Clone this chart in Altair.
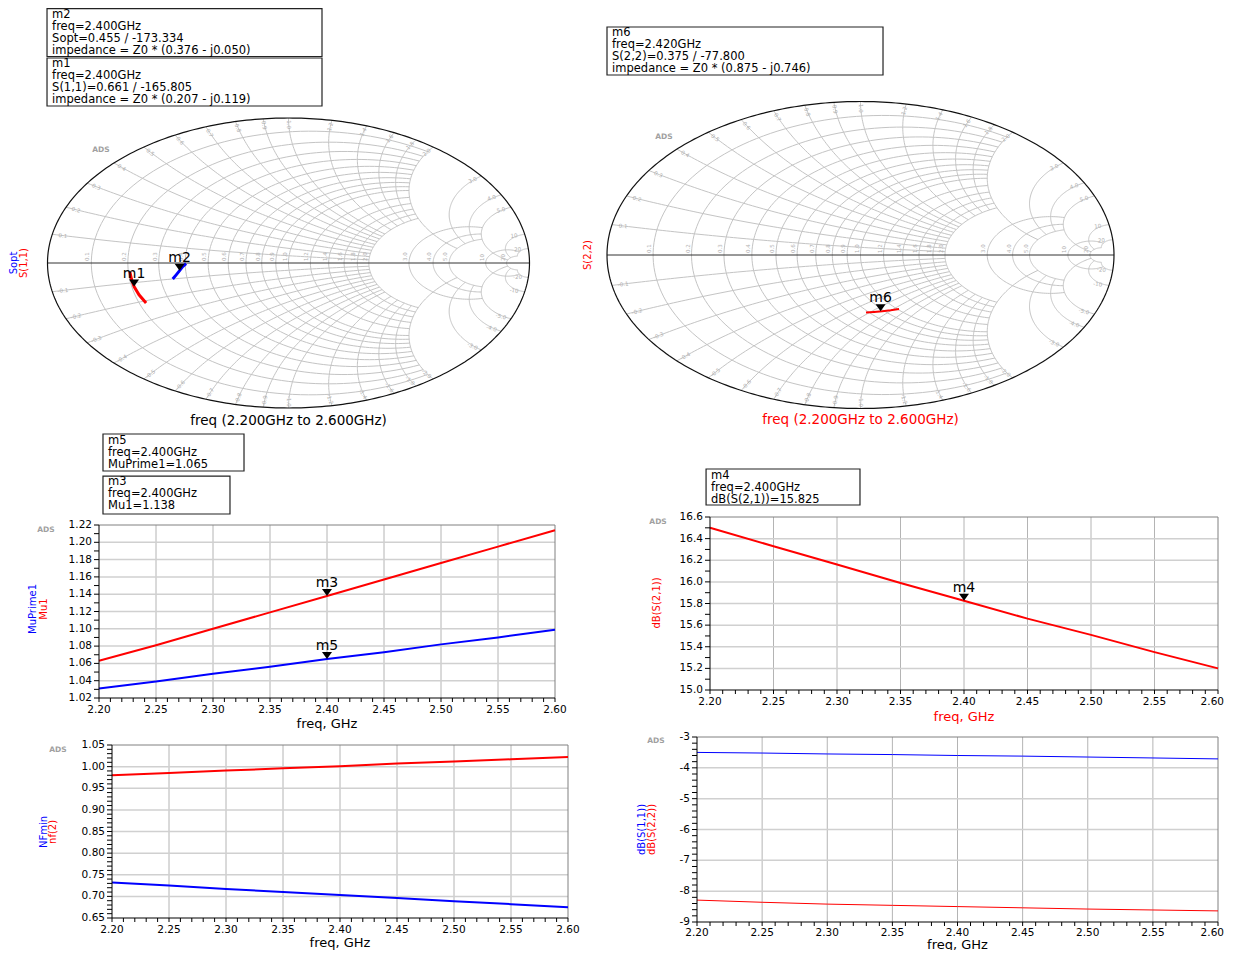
import numpy as np
import pandas as pd
import altair as alt

W, H = 1217, 942
FONT = "DejaVu Sans"
RED, BLUE, BLACK = "#ff0000", "#0000ff", "#000000"

# ---------------- series values ----------------
freq = [2.20, 2.25, 2.30, 2.35, 2.40, 2.45, 2.50, 2.55, 2.60]
mu1 = [1.063, 1.081, 1.100, 1.119, 1.138, 1.157, 1.176, 1.195, 1.214]
mu_prime1 = [1.031, 1.039, 1.048, 1.056, 1.065, 1.073, 1.082, 1.090, 1.099]
db_s21 = [16.50, 16.33, 16.16, 15.99, 15.825, 15.66, 15.51, 15.35, 15.20]
nf2 = [0.980, 0.985, 0.991, 0.996, 1.001, 1.007, 1.012, 1.017, 1.022]
nf_min = [0.732, 0.725, 0.717, 0.710, 0.703, 0.696, 0.689, 0.682, 0.675]
db_s11 = [-3.50, -3.52, -3.55, -3.57, -3.60, -3.62, -3.65, -3.68, -3.71]
db_s22 = [-8.29, -8.36, -8.42, -8.46, -8.50, -8.54, -8.58, -8.61, -8.64]

smith_freq = [2.2, 2.3, 2.4, 2.5, 2.6]
s11_mag = [0.652, 0.658, 0.661, 0.661, 0.661]
s11_ang = [-155.0, -160.5, -165.8, -170.4, -174.6]
sopt_mag = [0.493, 0.472, 0.455, 0.440, 0.425]
sopt_ang = [-167.0, -170.2, -173.3, -176.7, -179.5]
s22_mag = [0.383, 0.379, 0.376, 0.375, 0.376]
s22_ang = [-66.6, -71.7, -76.8, -81.8, -86.7]

# markers
m1 = (0.661, -165.805)
m2 = (0.455, -173.334)
m6 = (0.375, -77.800)
m3 = (2.40, 1.138)
m5 = (2.40, 1.065)
m4 = (2.40, 15.825)

box_m2 = "m2\nfreq=2.400GHz\nSopt=0.455 / -173.334\nimpedance = Z0 * (0.376 - j0.050)"
box_m1 = "m1\nfreq=2.400GHz\nS(1,1)=0.661 / -165.805\nimpedance = Z0 * (0.207 - j0.119)"
box_m6 = "m6\nfreq=2.420GHz\nS(2,2)=0.375 / -77.800\nimpedance = Z0 * (0.875 - j0.746)"
box_m5 = "m5\nfreq=2.400GHz\nMuPrime1=1.065"
box_m3 = "m3\nfreq=2.400GHz\nMu1=1.138"
box_m4 = "m4\nfreq=2.400GHz\ndB(S(2,1))=15.825"

# ---------------- axes / tick labels ----------------
freq_major = [2.20, 2.25, 2.30, 2.35, 2.40, 2.45, 2.50, 2.55, 2.60]
freq_labels = ["2.20", "2.25", "2.30", "2.35", "2.40", "2.45", "2.50", "2.55", "2.60"]
freq_minor = 0.01

mu_major = [1.02, 1.04, 1.06, 1.08, 1.10, 1.12, 1.14, 1.16, 1.18, 1.20, 1.22]
mu_labels = ["1.02", "1.04", "1.06", "1.08", "1.10", "1.12", "1.14", "1.16", "1.18", "1.20", "1.22"]
mu_minor = 0.01
s21_major = [15.0, 15.2, 15.4, 15.6, 15.8, 16.0, 16.2, 16.4, 16.6]
s21_labels = ["15.0", "15.2", "15.4", "15.6", "15.8", "16.0", "16.2", "16.4", "16.6"]
s21_minor = 0.1
nf_major = [0.65, 0.70, 0.75, 0.80, 0.85, 0.90, 0.95, 1.00, 1.05]
nf_labels = ["0.65", "0.70", "0.75", "0.80", "0.85", "0.90", "0.95", "1.00", "1.05"]
nf_minor = 0.01
sdb_major = [-9, -8, -7, -6, -5, -4, -3]
sdb_labels = ["-9", "-8", "-7", "-6", "-5", "-4", "-3"]
sdb_minor = 0.2

smith_grid_vals = [0.1, 0.2, 0.3, 0.4, 0.5, 0.6, 0.7, 0.8, 0.9, 1.0,
                   1.2, 1.4, 1.6, 1.8, 2.0, 3.0, 4.0, 5.0, 10.0, 20.0]
smith_grid_text = ["0.1", "0.2", "0.3", "0.4", "0.5", "0.6", "0.7", "0.8", "0.9", "1.0",
                   "1.2", "1.4", "1.6", "1.8", "2.0", "3.0", "4.0", "5.0", "10", "20"]
smith_r_limit = [2] * 10 + [2] * 5 + [5] * 3 + [20] * 2
smith_x_limit = [2] * 10 + [2, 2, 2, 2, 5] + [5, 5, 20] + [20, 20]


def ticks(lo, hi, step):
    n = int(round((hi - lo) / step))
    return [round(lo + i * step, 4) for i in range(n + 1)]


TRI = "M -1 -1.4 L 1 -1.4 L 0 0 Z"


def marker_layers(df, sx, sy):
    pts = alt.Chart(df).mark_point(shape=TRI, filled=True, size=100, color=BLACK, opacity=1).encode(
        x=alt.X("x:Q", scale=sx, axis=None), y=alt.Y("y:Q", scale=sy, axis=None))
    txt = alt.Chart(df).mark_text(font=FONT, fontSize=14, color=BLACK, dy=-9, baseline="alphabetic",
                                  align="center").encode(
        x=alt.X("x:Q", scale=sx, axis=None), y=alt.Y("y:Q", scale=sy, axis=None), text="name:N")
    return [pts, txt]


def box_layers(df, sx, sy):
    rect = alt.Chart(df).mark_rect(fill="white", stroke="#222222", strokeWidth=1.2).encode(
        x=alt.X("x0:Q", scale=sx, axis=None), x2="x1:Q",
        y=alt.Y("y0:Q", scale=sy, axis=None), y2="y1:Q")
    txt = alt.Chart(df).mark_text(font=FONT, fontSize=11.5, lineBreak="\n", lineHeight=12, align="left",
                                  baseline="top", color=BLACK).encode(
        x=alt.X("tx:Q", scale=sx, axis=None), y=alt.Y("ty:Q", scale=sy, axis=None), text="text:N")
    return [rect, txt]


def vtext_layers(df, sx, sy, size=10):
    return [alt.Chart(df).mark_text(angle=270, font=FONT, fontSize=size, align="center",
                                    baseline="middle").encode(
        x=alt.X("x:Q", scale=sx, axis=None), y=alt.Y("y:Q", scale=sy, axis=None), text="t:N",
        color=alt.Color("c:N", scale=None))]


def ads_layer(x, y, sx, sy):
    df = pd.DataFrame({"x": [x], "y": [y], "t": ["ADS"]})
    return alt.Chart(df).mark_text(font=FONT, fontSize=7.5, fontWeight="bold", color="#a0a0a0",
                                   align="center", baseline="middle").encode(
        x=alt.X("x:Q", scale=sx, axis=None), y=alt.Y("y:Q", scale=sy, axis=None), text="t:N")


# ---------------- rectangular panels ----------------
def rect_panel(xr, yr, ymajor, ylabels, yminor, series, xtitle_color, label_dy, title_dy, extra):
    lo, hi = ymajor[0], ymajor[-1]
    f0, f1 = freq_major[0], freq_major[-1]
    x0, x1 = xr
    yb, yt = yr
    sx = alt.Scale(domain=[f0, f1], range=[x0, x1], nice=False, zero=False)
    sy = alt.Scale(domain=[lo, hi], range=[yb, yt], nice=False, zero=False)
    XX = lambda f: alt.X(f, scale=sx, axis=None)
    YY = lambda f: alt.Y(f, scale=sy, axis=None)

    vg = pd.DataFrame({"f": freq_major[1:-1], "y0": lo, "y1": hi})
    hg = pd.DataFrame({"v": ymajor[1:-1], "x0": f0, "x1": f1})
    fr = pd.DataFrame({"x0": [f0, f1], "x1": [f1, f1], "y0": [hi, lo], "y1": [hi, hi]})
    dom = pd.DataFrame({"x0": [f0, f0], "x1": [f1, f0], "y0": [lo, lo], "y1": [lo, hi]})
    xt = pd.DataFrame({"f": ticks(f0, f1, freq_minor), "y": lo})
    yt_ = pd.DataFrame({"v": ticks(lo, hi, yminor), "x": f0})
    xl = pd.DataFrame({"f": freq_major, "t": freq_labels, "y": lo})
    yl = pd.DataFrame({"v": ymajor, "t": ylabels, "x": f0})
    xtitle = pd.DataFrame({"x": [(f0 + f1) / 2], "y": [lo], "t": ["freq, GHz"]})
    at_edge = x1 + 12 > W
    xl_main = xl.iloc[:-1] if at_edge else xl

    layers = [
        alt.Chart(vg).mark_rule(color="#b4b4b4", strokeWidth=1).encode(
            x=XX("f:Q"), y=YY("y0:Q"), y2="y1:Q"),
        alt.Chart(hg).mark_rule(color="#d0d0d0", strokeWidth=1.5).encode(
            y=YY("v:Q"), x=XX("x0:Q"), x2="x1:Q"),
        alt.Chart(fr).mark_rule(color="#808080", strokeWidth=1).encode(
            x=XX("x0:Q"), x2="x1:Q", y=YY("y0:Q"), y2="y1:Q"),
    ]
    for vals, color, width in series:
        df = pd.DataFrame({"f": freq, "v": vals})
        layers.append(alt.Chart(df).mark_line(color=color, strokeWidth=width).encode(
            x=XX("f:Q"), y=YY("v:Q")))
    layers += [
        alt.Chart(dom).mark_rule(color=BLACK, strokeWidth=1).encode(
            x=XX("x0:Q"), x2="x1:Q", y=YY("y0:Q"), y2="y1:Q"),
        alt.Chart(xt).mark_rule(color=BLACK, strokeWidth=1, y2Offset=4).encode(
            x=XX("f:Q"), y=YY("y:Q"), y2="y:Q"),
        alt.Chart(yt_).mark_rule(color=BLACK, strokeWidth=1, x2Offset=-5).encode(
            y=YY("v:Q"), x=XX("x:Q"), x2="x:Q"),
        alt.Chart(xl_main).mark_text(font=FONT, fontSize=10.5, color=BLACK, dy=label_dy, align="center",
                                     baseline="middle").encode(x=XX("f:Q"), y=YY("y:Q"), text="t:N"),
        alt.Chart(yl).mark_text(font=FONT, fontSize=10.5, color=BLACK, dx=-7, align="right",
                                baseline="middle").encode(x=XX("x:Q"), y=YY("v:Q"), text="t:N"),
        alt.Chart(xtitle).mark_text(font=FONT, fontSize=13, color=xtitle_color, dy=title_dy, align="center",
                                    baseline="middle").encode(x=XX("x:Q"), y=YY("y:Q"), text="t:N"),
    ]
    if at_edge:
        layers.append(alt.Chart(xl.iloc[-1:]).mark_text(
            font=FONT, fontSize=10.5, color=BLACK, dy=label_dy, dx=W - x1 - 1, align="right",
            baseline="middle").encode(x=XX("f:Q"), y=YY("y:Q"), text="t:N"))
    layers += extra(sx, sy)
    return alt.layer(*layers)


def ml_extra(sx, sy):
    mk = pd.DataFrame({"x": [m3[0], m5[0]], "y": [m3[1], m5[1]], "name": ["m3", "m5"]})
    bx = pd.DataFrame({"x0": [2.2035, 2.2035], "x1": [2.3272, 2.3149], "y0": [1.3252, 1.2766],
                       "y1": [1.2824, 1.2327], "tx": [2.2079, 2.2079], "ty": [1.3246, 1.2761],
                       "text": [box_m5, box_m3]})
    vt = pd.DataFrame({"x": [2.1421, 2.1518], "y": [1.1229, 1.1229], "t": ["MuPrime1", "Mu1"], "c": [BLUE, RED]})
    return marker_layers(mk, sx, sy) + box_layers(bx, sx, sy) + vtext_layers(vt, sx, sy) + [ads_layer(2.1535, 1.2142, sx, sy)]


def mr_extra(sx, sy):
    mk = pd.DataFrame({"x": [m4[0]], "y": [m4[1]], "name": ["m4"]})
    bx = pd.DataFrame({"x0": [2.1969], "x1": [2.3181], "y0": [17.044], "y1": [16.711],
                       "tx": [2.2008], "ty": [17.0393], "text": [box_m4]})
    vt = pd.DataFrame({"x": [2.1583], "y": [15.805], "t": ["dB(S(2,1))"], "c": [RED]})
    return marker_layers(mk, sx, sy) + box_layers(bx, sx, sy) + vtext_layers(vt, sx, sy) + [ads_layer(2.1591, 16.554, sx, sy)]


def bl_extra(sx, sy):
    vt = pd.DataFrame({"x": [2.1404, 2.1482], "y": [0.849, 0.849], "t": ["NFmin", "nf(2)"], "c": [BLUE, RED]})
    return vtext_layers(vt, sx, sy) + [ads_layer(2.1526, 1.0384, sx, sy)]


def br_extra(sx, sy):
    vt = pd.DataFrame({"x": [2.1578, 2.1655], "y": [-6.0, -6.0], "t": ["dB(S(1,1))", "dB(S(2,2))"], "c": [BLUE, RED]})
    return vtext_layers(vt, sx, sy) + [ads_layer(2.1685, -3.13, sx, sy)]


# ---------------- Smith chart panels ----------------
def gam(z):
    return (z - 1) / (z + 1)


def smith_grid():
    rows = {"lid": [], "k": [], "gx": [], "gy": []}
    lid = [0]

    def add(pts):
        n = len(pts)
        rows["lid"] += [lid[0]] * n
        rows["k"] += list(range(n))
        rows["gx"] += [round(float(v), 4) for v in pts.real]
        rows["gy"] += [round(float(v), 4) for v in pts.imag]
        lid[0] += 1

    for r, lim in zip(smith_grid_vals, smith_r_limit):
        c, rho = r / (r + 1), 1 / (r + 1)
        t1 = np.angle(gam(complex(r, lim)) - c)
        th = np.linspace(t1, 2 * np.pi - t1, 120)
        add(c + rho * np.exp(1j * th))
    for xv, lim in zip(smith_grid_vals, smith_x_limit):
        C, rho = complex(1, 1 / xv), 1 / xv
        pa = np.angle(gam(complex(0, xv)) - C) % (2 * np.pi)
        pb = np.angle(gam(complex(lim, xv)) - C) % (2 * np.pi)
        ph = np.linspace(pa, pb, 80)
        pts = C + rho * np.exp(1j * ph)
        add(pts)
        add(np.conj(pts))
    return pd.DataFrame(rows)


GRID = smith_grid()
th = np.linspace(0, 2 * np.pi, 361)
RIM = pd.DataFrame({"gx": np.round(np.cos(th), 4), "gy": np.round(np.sin(th), 4), "k": range(361)})
HAX = pd.DataFrame({"gx": [-1.0, 1.0], "gy": [0.0, 0.0]})
AXLAB = pd.DataFrame({"gx": [(r - 1) / (r + 1) for r in smith_grid_vals], "gy": 0.0, "t": smith_grid_text})


def polar_df(mags, angs, fr):
    a = np.radians(angs)
    return pd.DataFrame({"f": fr, "gx": np.array(mags) * np.cos(a), "gy": np.array(mags) * np.sin(a)})


def smith_panel(xr, yr, traces, markers, boxes, side, title_txt, title_color, ads_xy, title_y):
    sx = alt.Scale(domain=[-1, 1], range=list(xr), nice=False, zero=False)
    sy = alt.Scale(domain=[-1, 1], range=list(yr), nice=False, zero=False)
    rx = (xr[1] - xr[0]) / 2
    ry = (yr[0] - yr[1]) / 2
    XX = lambda f: alt.X(f, scale=sx, axis=None)
    YY = lambda f: alt.Y(f, scale=sy, axis=None)

    rl = {"gx": [], "gy": [], "t": [], "ang": []}
    for v, t in zip(smith_grid_vals, smith_grid_text):
        g = gam(complex(0, v))
        for gg, tt in ((g, t), (np.conj(g), "-" + t)):
            p = gg * 0.955
            a = np.degrees(np.arctan2(-gg.imag * ry, gg.real * rx))
            if a > 90:
                a -= 180
            if a <= -90:
                a += 180
            rl["gx"].append(float(p.real))
            rl["gy"].append(float(p.imag))
            rl["t"].append(tt)
            rl["ang"].append(float(a % 360))
    RL = pd.DataFrame(rl)

    layers = [
        alt.Chart(GRID).mark_line(color="#c4c4c4", strokeWidth=1).encode(
            x=XX("gx:Q"), y=YY("gy:Q"), detail="lid:N", order="k:Q"),
        alt.Chart(HAX).mark_line(color="#333333", strokeWidth=1).encode(x=XX("gx:Q"), y=YY("gy:Q")),
        alt.Chart(RIM).mark_line(color="#111111", strokeWidth=1.2).encode(x=XX("gx:Q"), y=YY("gy:Q"), order="k:Q"),
        alt.Chart(AXLAB).mark_text(angle=270, font=FONT, fontSize=5.5, color="#b0b0b0", align="left",
                                   baseline="bottom", dx=2, dy=-1).encode(x=XX("gx:Q"), y=YY("gy:Q"), text="t:N"),
        alt.Chart(RL).mark_text(font=FONT, fontSize=5.5, color="#b0b0b0", align="center",
                                baseline="middle").encode(x=XX("gx:Q"), y=YY("gy:Q"), text="t:N",
                                                          angle=alt.Angle("ang:Q", scale=None)),
    ]
    for df, color, width in traces:
        layers.append(alt.Chart(df).mark_line(color=color, strokeWidth=width).encode(
            x=XX("gx:Q"), y=YY("gy:Q"), order="f:Q"))
    mk = pd.DataFrame({"x": [m[0] * np.cos(np.radians(m[1])) for m in markers.values()],
                       "y": [m[0] * np.sin(np.radians(m[1])) for m in markers.values()],
                       "name": list(markers.keys())})
    layers += marker_layers(mk, sx, sy)
    layers += box_layers(boxes, sx, sy)
    layers += vtext_layers(side, sx, sy)
    tdf = pd.DataFrame({"x": [0.0], "y": [title_y], "t": [title_txt]})
    layers.append(alt.Chart(tdf).mark_text(font=FONT, fontSize=13.5, color=title_color, align="center",
                                           baseline="middle").encode(x=XX("x:Q"), y=YY("y:Q"), text="t:N"))
    layers.append(ads_layer(ads_xy[0], ads_xy[1], sx, sy))
    return alt.layer(*layers)


SL = smith_panel(
    (39.5, 521.5), (400, 110),
    [(polar_df(s11_mag, s11_ang, smith_freq), RED, 3), (polar_df(sopt_mag, sopt_ang, smith_freq), BLUE, 3)],
    {"m1": m1, "m2": m2},
    pd.DataFrame({"x0": [-1.002, -1.002], "x1": [0.139, 0.139], "y0": [1.7545, 1.4138], "y1": [1.4241, 1.0828],
                  "tx": [-0.981, -0.981], "ty": [1.7531, 1.4117], "text": [box_m2, box_m1]}),
    pd.DataFrame({"x": [-1.139, -1.097], "y": [0.0, 0.0], "t": ["Sopt", "S(1,1)"], "c": [BLUE, RED]}),
    "freq (2.200GHz to 2.600GHz)", BLACK, (-0.778, 0.779), -1.090)

SR = smith_panel(
    (599, 1106), (400.5, 93.5),
    [(polar_df(s22_mag, s22_ang, smith_freq), RED, 2)],
    {"m6": m6},
    pd.DataFrame({"x0": [-1.0], "x1": [0.0888], "y0": [1.4853], "y1": [1.1726],
                  "tx": [-0.980], "ty": [1.4834], "text": [box_m6]}),
    pd.DataFrame({"x": [-1.075], "y": [0.0], "t": ["S(2,2)"], "c": [RED]}),
    "freq (2.200GHz to 2.600GHz)", RED, (-0.775, 0.769), -1.075)

ML = rect_panel((91, 547), (690, 517), mu_major, mu_labels, mu_minor,
                [(mu1, RED, 2), (mu_prime1, BLUE, 2)], BLACK, 12, 26, ml_extra)
MR = rect_panel((702, 1210), (682, 509), s21_major, s21_labels, s21_minor,
                [(db_s21, RED, 2)], RED, 12, 27, mr_extra)
BL = rect_panel((104, 560), (910, 737), nf_major, nf_labels, nf_minor,
                [(nf2, RED, 2), (nf_min, BLUE, 2)], BLACK, 12, 25, bl_extra)
BR = rect_panel((689, 1210), (914, 729), sdb_major, sdb_labels, sdb_minor,
                [(db_s11, BLUE, 1), (db_s22, RED, 1)], BLACK, 11, 22.5, br_extra)

chart = alt.layer(SL, SR, ML, MR, BL, BR).resolve_scale(
    x="independent", y="independent").properties(
    width=W, height=H, padding=0, autosize=alt.AutoSizeParams(type="none")).configure_view(stroke=None)

chart.save("out.html", embed_options={"renderer": "svg", "actions": False})
